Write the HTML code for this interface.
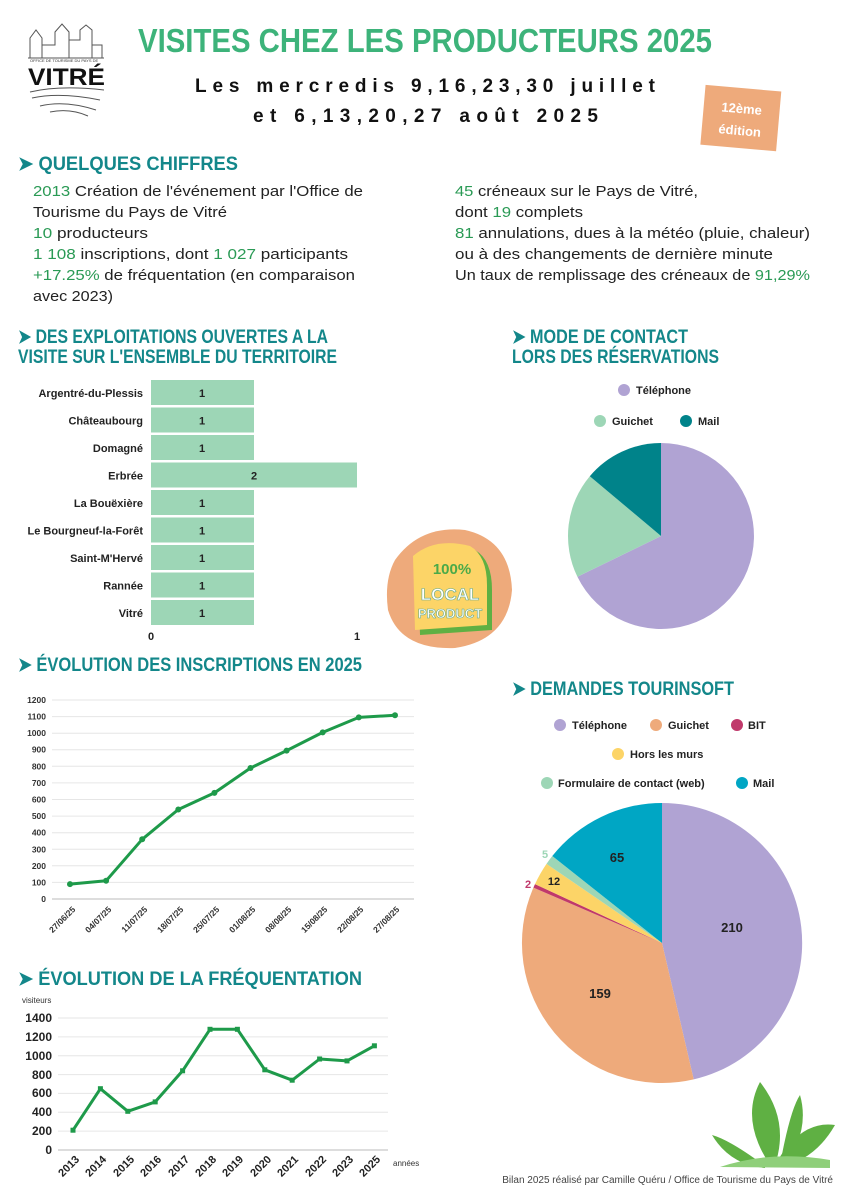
<!DOCTYPE html>
<html><head><meta charset="utf-8"><style>
html,body{margin:0;padding:0;background:#fff}
svg{display:block}
text{font-family:"Liberation Sans",sans-serif}
.h{fill:#13878a;font-weight:bold;font-size:19px}
.b{font-size:15px;fill:#222}
.g{fill:#2a9a55}
.ax{font-size:8.5px;fill:#333;font-weight:bold}
.lab{font-size:11px;fill:#222;font-weight:bold}
</style></head><body>
<svg width="849" height="1200" viewBox="0 0 849 1200" xmlns="http://www.w3.org/2000/svg">
<rect width="849" height="1200" fill="#fff"/>
<!-- logo -->
<g stroke="#555" stroke-width="1" fill="none">
<path d="M30 58 L30 38 L36 30 L42 38 L42 58 M42 45 L55 45 L55 32 L62 24 L69 32 L69 58 M69 40 L80 40 L80 30 L86 25 L92 30 L92 58 M92 45 L102 45 L102 58 M28 58 L104 58"/>
<path d="M30 92 Q60 85 104 90 M32 98 Q60 92 100 100 M40 106 Q65 100 96 110 M50 112 Q70 108 88 116"/>
</g>
<text x="30" y="62" font-size="4" fill="#333">OFFICE DE TOURISME DU PAYS DE</text>
<text x="28" y="85" font-size="24" font-weight="bold" fill="#111" textLength="77" lengthAdjust="spacingAndGlyphs">VITRÉ</text>
<!-- title -->
<text x="138" y="52" font-size="33" font-weight="bold" fill="#3db37a" textLength="574" lengthAdjust="spacingAndGlyphs">VISITES CHEZ LES PRODUCTEURS 2025</text>
<text x="195" y="92" font-size="19" font-weight="bold" fill="#111" textLength="460" lengthAdjust="spacing">Les mercredis 9,16,23,30 juillet</text>
<text x="253" y="122" font-size="19" font-weight="bold" fill="#111" textLength="345" lengthAdjust="spacing">et  6,13,20,27 août 2025</text>
<g transform="rotate(5 740 116)"><rect x="703" y="88" width="76" height="60" fill="#eeaa7b"/>
<text x="741" y="113" font-size="13" fill="#fff" text-anchor="middle" font-weight="bold">12ème</text>
<text x="741" y="135" font-size="13" fill="#fff" text-anchor="middle" font-weight="bold">édition</text></g>
<!-- quelques chiffres -->
<text class="h" x="18" y="170" textLength="220" lengthAdjust="spacingAndGlyphs">➤ QUELQUES CHIFFRES</text>
<g class="b">
<text x="33" y="196" textLength="330" lengthAdjust="spacingAndGlyphs"><tspan class="g">2013</tspan> Création de l'événement par l'Office de</text>
<text x="33" y="217" textLength="194" lengthAdjust="spacingAndGlyphs">Tourisme du Pays de Vitré</text>
<text x="33" y="238" textLength="115" lengthAdjust="spacingAndGlyphs"><tspan class="g">10</tspan> producteurs</text>
<text x="33" y="259" textLength="315" lengthAdjust="spacingAndGlyphs"><tspan class="g">1 108</tspan> inscriptions, dont <tspan class="g">1 027</tspan> participants</text>
<text x="33" y="280" textLength="322" lengthAdjust="spacingAndGlyphs"><tspan class="g">+17.25%</tspan> de fréquentation (en comparaison</text>
<text x="33" y="301" textLength="80" lengthAdjust="spacingAndGlyphs">avec 2023)</text>
<text x="455" y="196" textLength="243" lengthAdjust="spacingAndGlyphs"><tspan class="g">45</tspan> créneaux sur le Pays de Vitré,</text>
<text x="455" y="217" textLength="128" lengthAdjust="spacingAndGlyphs">dont <tspan class="g">19</tspan> complets</text>
<text x="455" y="238" textLength="355" lengthAdjust="spacingAndGlyphs"><tspan class="g">81</tspan> annulations, dues à la météo (pluie, chaleur)</text>
<text x="455" y="259" textLength="318" lengthAdjust="spacingAndGlyphs">ou à des changements de dernière minute</text>
<text x="455" y="280" textLength="355" lengthAdjust="spacingAndGlyphs">Un taux de remplissage des créneaux de <tspan class="g">91,29%</tspan></text>
</g>
<!-- bar chart -->
<text class="h" x="18" y="343" textLength="310" lengthAdjust="spacingAndGlyphs">➤ DES EXPLOITATIONS OUVERTES A LA</text>
<text class="h" x="18" y="363" textLength="319" lengthAdjust="spacingAndGlyphs">VISITE SUR L'ENSEMBLE DU TERRITOIRE</text>
<g fill="#9dd6b6">
<rect x="151" y="380" width="103" height="25"/><rect x="151" y="407.5" width="103" height="25"/>
<rect x="151" y="435" width="103" height="25"/><rect x="151" y="462.5" width="206" height="25"/>
<rect x="151" y="490" width="103" height="25"/><rect x="151" y="517.5" width="103" height="25"/>
<rect x="151" y="545" width="103" height="25"/><rect x="151" y="572.5" width="103" height="25"/>
<rect x="151" y="600" width="103" height="25"/>
</g>
<g class="lab" text-anchor="end">
<text x="143" y="397">Argentré-du-Plessis</text><text x="143" y="424.5">Châteaubourg</text>
<text x="143" y="452">Domagné</text><text x="143" y="479.5">Erbrée</text>
<text x="143" y="507">La Bouëxière</text><text x="143" y="534.5">Le Bourgneuf-la-Forêt</text>
<text x="143" y="562">Saint-M'Hervé</text><text x="143" y="589.5">Rannée</text>
<text x="143" y="617">Vitré</text>
</g>
<g class="lab" text-anchor="middle" font-size="10">
<text x="202" y="397">1</text><text x="202" y="424.5">1</text><text x="202" y="452">1</text>
<text x="254" y="479.5">2</text><text x="202" y="507">1</text><text x="202" y="534.5">1</text>
<text x="202" y="562">1</text><text x="202" y="589.5">1</text><text x="202" y="617">1</text>
<text x="151" y="640">0</text><text x="357" y="640">1</text>
</g>
<!-- local product badge -->
<path d="M395 560 Q420 525 465 530 Q510 540 512 590 Q508 640 455 648 Q400 650 388 610 Q384 580 395 560Z" fill="#eeaa7b"/>
<path d="M418 560 Q440 540 475 550 Q492 560 492 590 L492 630 L420 635 Z" fill="#5fb043"/>
<path d="M413 556 Q435 537 470 546 Q487 556 487 585 L487 625 L415 630 Z" fill="#fcd467"/>
<text x="452" y="574" font-size="15" font-weight="bold" fill="#4aaa48" text-anchor="middle">100%</text>
<text x="450" y="600" font-size="17" font-weight="bold" fill="#fff" stroke="#6a8" stroke-width="0.6" text-anchor="middle">LOCAL</text>
<text x="450" y="618" font-size="13" font-weight="bold" fill="#fff" stroke="#6a8" stroke-width="0.6" text-anchor="middle">PRODUCT</text>
<!-- pie 1 -->
<text class="h" x="512" y="343" textLength="176" lengthAdjust="spacingAndGlyphs">➤ MODE DE CONTACT</text>
<text class="h" x="512" y="363" textLength="207" lengthAdjust="spacingAndGlyphs">LORS DES RÉSERVATIONS</text>
<circle cx="624" cy="390" r="6" fill="#b0a3d3"/><text class="lab" x="636" y="394">Téléphone</text>
<circle cx="600" cy="421" r="6" fill="#9dd6b6"/><text class="lab" x="612" y="425">Guichet</text>
<circle cx="686" cy="421" r="6" fill="#00838a"/><text class="lab" x="698" y="425">Mail</text>
<path d="M661 536 L661 443 A93 93 0 1 1 577.4 576.8 Z" fill="#b0a3d3"/>
<path d="M661 536 L577.4 576.8 A93 93 0 0 1 589.8 476.2 Z" fill="#9dd6b6"/>
<path d="M661 536 L589.8 476.2 A93 93 0 0 1 661 443 Z" fill="#00838a"/>
<!-- inscriptions chart -->
<text class="h" x="18" y="671" textLength="344" lengthAdjust="spacingAndGlyphs">➤ ÉVOLUTION DES INSCRIPTIONS  EN 2025</text>
<g stroke="#e6e6e6" stroke-width="1">
<line x1="52" x2="414" y1="700" y2="700"/><line x1="52" x2="414" y1="716.6" y2="716.6"/><line x1="52" x2="414" y1="733.2" y2="733.2"/>
<line x1="52" x2="414" y1="749.7" y2="749.7"/><line x1="52" x2="414" y1="766.3" y2="766.3"/><line x1="52" x2="414" y1="782.9" y2="782.9"/>
<line x1="52" x2="414" y1="799.5" y2="799.5"/><line x1="52" x2="414" y1="816.1" y2="816.1"/><line x1="52" x2="414" y1="832.7" y2="832.7"/>
<line x1="52" x2="414" y1="849.3" y2="849.3"/><line x1="52" x2="414" y1="865.8" y2="865.8"/><line x1="52" x2="414" y1="882.4" y2="882.4"/>
</g>
<line x1="52" x2="414" y1="899" y2="899" stroke="#bbb"/>
<g class="ax" text-anchor="end">
<text x="46" y="703">1200</text><text x="46" y="719.6">1100</text><text x="46" y="736.2">1000</text><text x="46" y="752.7">900</text>
<text x="46" y="769.3">800</text><text x="46" y="785.9">700</text><text x="46" y="802.5">600</text><text x="46" y="819.1">500</text>
<text x="46" y="835.7">400</text><text x="46" y="852.3">300</text><text x="46" y="868.8">200</text><text x="46" y="885.4">100</text><text x="46" y="902">0</text>
</g>
<polyline points="70,884.1 106.1,880.8 142.2,839.3 178.3,809.5 214.4,792.9 250.5,768 286.6,750.6 322.7,732.4 358.8,717.4 395,715.3" fill="none" stroke="#1e9a4a" stroke-width="3" stroke-linejoin="round"/>
<g fill="#1e9a4a"><circle cx="70" cy="884.1" r="3"/><circle cx="106.1" cy="880.8" r="3"/><circle cx="142.2" cy="839.3" r="3"/><circle cx="178.3" cy="809.5" r="3"/><circle cx="214.4" cy="792.9" r="3"/><circle cx="250.5" cy="768" r="3"/><circle cx="286.6" cy="750.6" r="3"/><circle cx="322.7" cy="732.4" r="3"/><circle cx="358.8" cy="717.4" r="3"/><circle cx="395" cy="715.3" r="3"/></g>
<g class="ax" font-size="8">
<text transform="translate(76 910) rotate(-45)" text-anchor="end">27/06/25</text>
<text transform="translate(112 910) rotate(-45)" text-anchor="end">04/07/25</text>
<text transform="translate(148 910) rotate(-45)" text-anchor="end">11/07/25</text>
<text transform="translate(184 910) rotate(-45)" text-anchor="end">18/07/25</text>
<text transform="translate(220 910) rotate(-45)" text-anchor="end">25/07/25</text>
<text transform="translate(256 910) rotate(-45)" text-anchor="end">01/08/25</text>
<text transform="translate(292 910) rotate(-45)" text-anchor="end">08/08/25</text>
<text transform="translate(328 910) rotate(-45)" text-anchor="end">15/08/25</text>
<text transform="translate(364 910) rotate(-45)" text-anchor="end">22/08/25</text>
<text transform="translate(400 910) rotate(-45)" text-anchor="end">27/08/25</text>
</g>
<!-- frequentation -->
<text class="h" x="18" y="985" textLength="344" lengthAdjust="spacingAndGlyphs">➤ ÉVOLUTION DE LA FRÉQUENTATION</text>
<text x="22" y="1003" font-size="8" fill="#333">visiteurs</text>
<g stroke="#e6e6e6"><line x1="58" x2="388" y1="1018" y2="1018"/><line x1="58" x2="388" y1="1036.9" y2="1036.9"/><line x1="58" x2="388" y1="1055.7" y2="1055.7"/><line x1="58" x2="388" y1="1074.6" y2="1074.6"/><line x1="58" x2="388" y1="1093.4" y2="1093.4"/><line x1="58" x2="388" y1="1112.3" y2="1112.3"/><line x1="58" x2="388" y1="1131.1" y2="1131.1"/></g>
<line x1="58" x2="388" y1="1150" y2="1150" stroke="#bbb"/>
<g font-size="12" fill="#222" font-weight="bold" text-anchor="end">
<text x="52" y="1022">1400</text><text x="52" y="1041">1200</text><text x="52" y="1060">1000</text><text x="52" y="1079">800</text>
<text x="52" y="1097">600</text><text x="52" y="1116">400</text><text x="52" y="1135">200</text><text x="52" y="1154">0</text>
</g>
<polyline points="73,1130.2 100.4,1088.7 127.8,1111.3 155.2,1101.9 182.6,1070.8 210,1029.3 237.4,1029.3 264.8,1069.8 292.2,1080.2 319.6,1059 347,1060.9 374.4,1045.8" fill="none" stroke="#1e9a4a" stroke-width="3" stroke-linejoin="round"/>
<g fill="#1e9a4a"><rect x="70.5" y="1127.7" width="5" height="5"/><rect x="97.9" y="1086.2" width="5" height="5"/><rect x="125.3" y="1108.8" width="5" height="5"/><rect x="152.7" y="1099.4" width="5" height="5"/><rect x="180.1" y="1068.3" width="5" height="5"/><rect x="207.5" y="1026.8" width="5" height="5"/><rect x="234.9" y="1026.8" width="5" height="5"/><rect x="262.3" y="1067.3" width="5" height="5"/><rect x="289.7" y="1077.7" width="5" height="5"/><rect x="317.1" y="1056.5" width="5" height="5"/><rect x="344.5" y="1058.4" width="5" height="5"/><rect x="371.9" y="1043.3" width="5" height="5"/></g>
<g font-size="11" fill="#222" font-weight="bold" text-anchor="end">
<text transform="translate(80 1160) rotate(-45)">2013</text><text transform="translate(107 1160) rotate(-45)">2014</text>
<text transform="translate(135 1160) rotate(-45)">2015</text><text transform="translate(162 1160) rotate(-45)">2016</text>
<text transform="translate(190 1160) rotate(-45)">2017</text><text transform="translate(217 1160) rotate(-45)">2018</text>
<text transform="translate(244 1160) rotate(-45)">2019</text><text transform="translate(272 1160) rotate(-45)">2020</text>
<text transform="translate(299 1160) rotate(-45)">2021</text><text transform="translate(327 1160) rotate(-45)">2022</text>
<text transform="translate(354 1160) rotate(-45)">2023</text><text transform="translate(381 1160) rotate(-45)">2025</text>
</g>
<text x="393" y="1166" font-size="8" fill="#333">années</text>
<!-- pie 2 -->
<text class="h" x="512" y="695" textLength="222" lengthAdjust="spacingAndGlyphs">➤ DEMANDES TOURINSOFT</text>
<circle cx="560" cy="725" r="6" fill="#b0a3d3"/><text class="lab" x="572" y="729">Téléphone</text>
<circle cx="656" cy="725" r="6" fill="#eeaa7b"/><text class="lab" x="668" y="729">Guichet</text>
<circle cx="737" cy="725" r="6" fill="#c0396b"/><text class="lab" x="748" y="729">BIT</text>
<circle cx="618" cy="754" r="6" fill="#fcd467"/><text class="lab" x="630" y="758">Hors les murs</text>
<circle cx="547" cy="783" r="6" fill="#9dd6b6"/><text class="lab" x="558" y="787">Formulaire de contact (web)</text>
<circle cx="742" cy="783" r="6" fill="#00a6c4"/><text class="lab" x="753" y="787">Mail</text>
<path d="M662 943 L662 803 A140 140 0 0 1 693.7 1079.4 Z" fill="#b0a3d3"/>
<path d="M662 943 L693.7 1079.4 A140 140 0 0 1 533.4 887.6 Z" fill="#eeaa7b"/>
<path d="M662 943 L533.4 887.6 A140 140 0 0 1 535 884.1 Z" fill="#c0396b"/>
<path d="M662 943 L535 884.1 A140 140 0 0 1 546.5 863.9 Z" fill="#fcd467"/>
<path d="M662 943 L546.5 863.9 A140 140 0 0 1 552.3 856 Z" fill="#9dd6b6"/>
<path d="M662 943 L552.3 856 A140 140 0 0 1 662 803 Z" fill="#00a6c4"/>
<g font-size="13" font-weight="bold" fill="#222" text-anchor="middle">
<text x="732" y="932">210</text><text x="600" y="998">159</text><text x="617" y="862">65</text>
<text x="554" y="885" font-size="11">12</text>
</g>
<text x="528" y="888" font-size="11" font-weight="bold" fill="#c0396b" text-anchor="middle">2</text>
<text x="545" y="858" font-size="11" font-weight="bold" fill="#9dd6b6" text-anchor="middle">5</text>
<!-- plant -->
<g fill="#5fb043">
<path d="M770 1165 Q740 1120 760 1082 Q790 1120 775 1165Z"/>
<path d="M775 1165 Q800 1120 835 1125 Q815 1160 780 1167Z"/>
<path d="M765 1166 Q730 1140 712 1135 Q730 1165 765 1168Z"/>
<path d="M780 1165 Q790 1110 800 1095 Q810 1130 785 1166Z"/>
</g>
<path d="M720 1167 Q770 1150 830 1160 L830 1168 Z" fill="#8fcf7a"/>
<text x="833" y="1183" font-size="10" fill="#444" text-anchor="end">Bilan 2025 réalisé par Camille Quéru / Office de Tourisme du Pays de Vitré</text>
</svg>
</body></html>
